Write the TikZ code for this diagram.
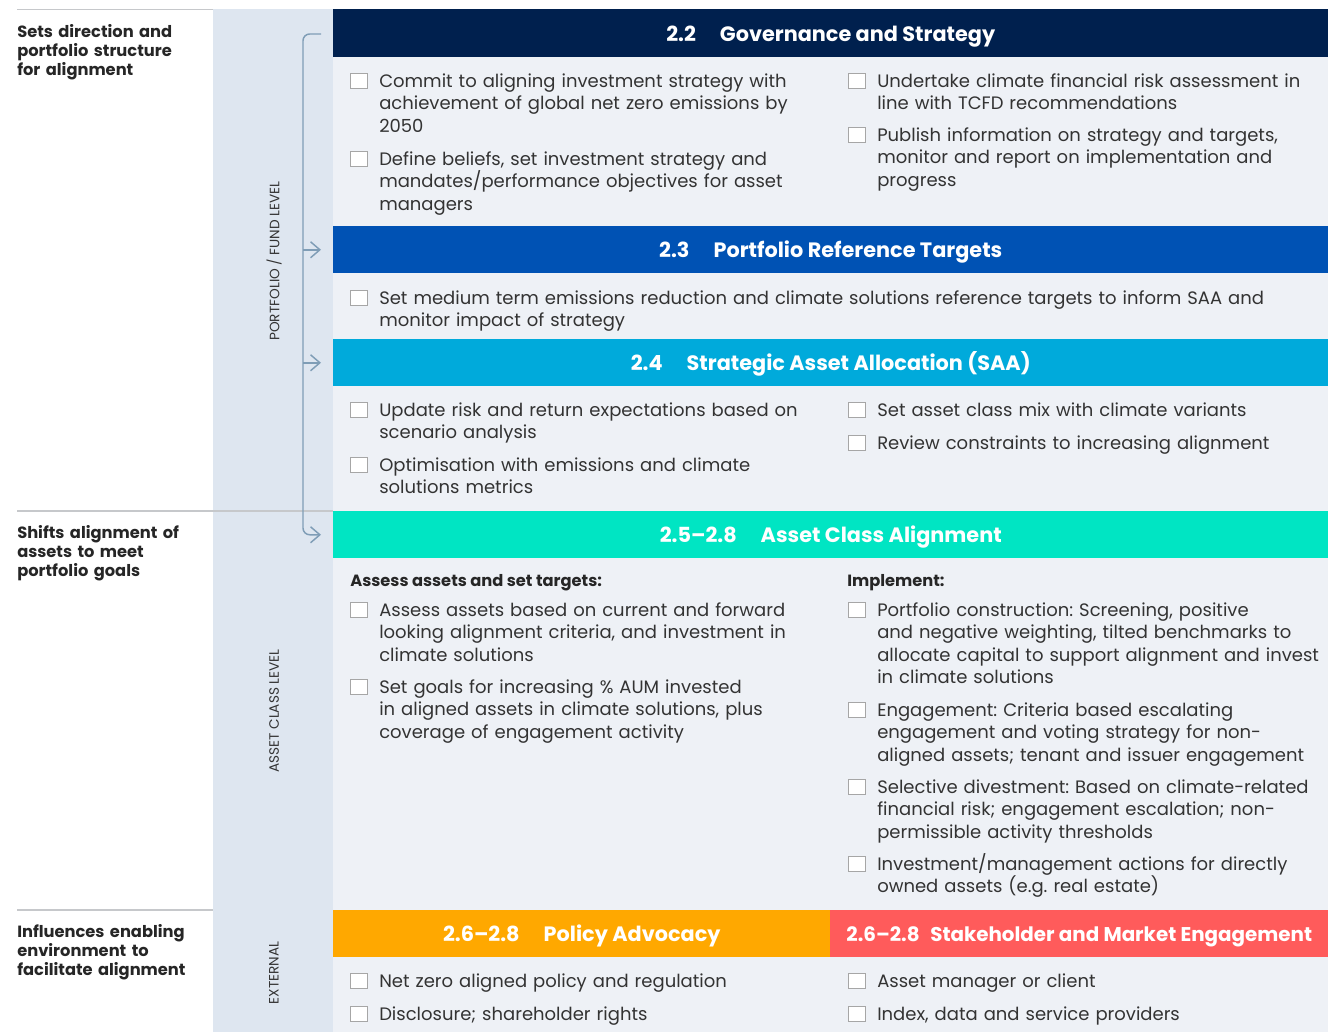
\documentclass[tikz,border=0pt]{standalone}
\usepackage{fontspec}
\setmainfont{Poppins}
\usepackage{xcolor}
\usetikzlibrary{arrows.meta, positioning, calc}

\definecolor{navyhd}{HTML}{00204E}
\definecolor{bluehd}{HTML}{0052B4}
\definecolor{cyanhd}{HTML}{00AADB}
\definecolor{tealhd}{HTML}{00E5C3}
\definecolor{amberhd}{HTML}{FFA800}
\definecolor{coralhd}{HTML}{FF5B5B}
\definecolor{panelbg}{HTML}{EEF1F6}
\definecolor{railbg}{HTML}{DEE6F0}
\definecolor{rulegray}{HTML}{C6C8CB}
\definecolor{railline}{HTML}{7F9DB6}
\definecolor{bodytext}{HTML}{333333}

% one ticked-off line of the list, with its box
\newcommand{\chkitem}[4]{%
    \node[item] (#1) at (#2,#3) {#4};
    \draw[chkbox] ($(#1.base west)+(-29,-14)$) rectangle ++(17,15);
}

\begin{document}
\frenchspacing
\begin{tikzpicture}[x=0.75pt, y=-0.75pt, >=Straight Barb,
hdr/.style={anchor=north west, inner sep=0, text=white, minimum height=35.25pt,
    text height=12pt, text depth=0pt,
    font=\bfseries\fontsize{15.6pt}{17pt}\selectfont},
item/.style={anchor=base west, inner sep=0, text width=345pt, align=left,
    text=bodytext, font=\fontsize{13.5pt}{16.9pt}\selectfont},
subhd/.style={anchor=base west, inner sep=0, text=black!85,
    font=\bfseries\fontsize{12.2pt}{13pt}\selectfont},
sidelbl/.style={anchor=base west, inner sep=0, text width=150pt, align=left,
    text=black!85, font=\bfseries\fontsize{12.2pt}{14.6pt}\selectfont},
railtext/.style={rotate=90, inner sep=0, text=bodytext,
    font=\fontsize{10.2pt}{11pt}\selectfont},
chkbox/.style={draw=black!35, fill=white, line width=0.6pt},
railarrow/.style={->, draw=railline, line width=1.1pt, shorten >=9pt,
    arrows={-Straight Barb[length=7pt, width=12pt]}}
]
    \useasboundingbox (0,0) rectangle (1328,1032);
    \fill[white] (0,0) rectangle (1328,1032);

    % Backgrounds
    \fill[railbg] (213,9) rectangle (333,1032);
    \fill[panelbg] (333,9) rectangle (1328,1032);
    \draw[rulegray, line width=0.8pt] (17,9.5) -- (213,9.5);
    \draw[rulegray, line width=0.8pt] (17,511) -- (333,511);
    \draw[rulegray, line width=0.8pt] (17,910) -- (213,910);

    % Side labels
    \node[sidelbl] (side1) at (17,37) {Sets direction and\\portfolio structure\\for alignment};
    \node[sidelbl] (side2) at (17,538) {Shifts alignment of\\assets to meet\\portfolio goals};
    \node[sidelbl] (side3) at (17,937) {Influences enabling\\environment to\\facilitate alignment};

    \node[railtext] (lvl1) at (274,261) {PORTFOLIO / FUND LEVEL};
    \node[railtext] (lvl2) at (274,711) {ASSET CLASS LEVEL};
    \node[railtext] (lvl3) at (274,973) {EXTERNAL};

    % Section headers
    \node[hdr, fill=navyhd, minimum width=746.25pt, minimum height=36pt] (h22) at (333,9)
        {2.2\hspace{18pt}Governance and Strategy};
    \node[hdr, fill=bluehd, minimum width=746.25pt] (h23) at (333,226)
        {2.3\hspace{18pt}Portfolio Reference Targets};
    \node[hdr, fill=cyanhd, minimum width=746.25pt] (h24) at (333,339)
        {2.4\hspace{18pt}Strategic Asset Allocation (SAA)};
    \node[hdr, fill=tealhd, minimum width=746.25pt] (h25) at (333,511)
        {2.5--2.8\hspace{18pt}Asset Class Alignment};
    \node[hdr, fill=amberhd, minimum width=372.75pt] (h26) at (333,910)
        {2.6--2.8\hspace{18pt}Policy Advocacy};
    \node[hdr, fill=coralhd, minimum width=373.5pt,
        font=\bfseries\fontsize{14.9pt}{17pt}\selectfont] (h27) at (830,910)
        {2.6--2.8\hspace{8pt}Stakeholder and Market Engagement};

    % Bracket with arrows
    \coordinate (spine) at (303,34);
    \draw[railarrow, rounded corners=5pt] (321,34) -- (spine) |- (h25.west);
    \draw[railarrow] (spine |- h23.west) -- (h23.west);
    \draw[railarrow] (spine |- h24.west) -- (h24.west);

    % 2.2
    \chkitem{g1}{379}{87}{Commit to aligning investment strategy with\\achievement of global net zero emissions by\\2050}
    \chkitem{g2}{379}{165}{Define beliefs, set investment strategy and\\mandates/performance objectives for asset\\managers}
    \chkitem{g3}{877}{87}{Undertake climate financial risk assessment in\\line with TCFD recommendations}
    \chkitem{g4}{877}{141}{Publish information on strategy and targets,\\monitor and report on implementation and\\progress}

    % 2.3
    \node[item, text width=700pt] (t1) at (379,304) {Set medium term emissions reduction and climate solutions reference targets to inform SAA and\\monitor impact of strategy};
    \draw[chkbox] ($(t1.base west)+(-29,-14)$) rectangle ++(17,15);

    % 2.4
    \chkitem{s1}{379}{416}{Update risk and return expectations based on\\scenario analysis}
    \chkitem{s2}{379}{471}{Optimisation with emissions and climate\\solutions metrics}
    \chkitem{s3}{877}{416}{Set asset class mix with climate variants}
    \chkitem{s4}{877}{449}{Review constraints to increasing alignment}

    % 2.5 - 2.8
    \node[subhd] (sub1) at (350,586) {Assess assets and set targets:};
    \node[subhd] (sub2) at (847,586) {Implement:};
    \chkitem{a1}{379}{616}{Assess assets based on current and forward\\looking alignment criteria, and investment in\\climate solutions}
    \chkitem{a2}{379}{693}{Set goals for increasing \% AUM invested\\in aligned assets in climate solutions, plus\\coverage of engagement activity}
    \chkitem{a3}{877}{616}{Portfolio construction: Screening, positive\\and negative weighting, tilted benchmarks to\\allocate capital to support alignment and invest\\in climate solutions}
    \chkitem{a4}{877}{716}{Engagement: Criteria based escalating\\engagement and voting strategy for non-\\aligned assets; tenant and issuer engagement}
    \chkitem{a5}{877}{793}{Selective divestment: Based on climate-related\\financial risk; engagement escalation; non-\\permissible activity thresholds}
    \chkitem{a6}{877}{870}{Investment/management actions for directly\\owned assets (e.g. real estate)}

    % External
    \chkitem{e1}{379}{987}{Net zero aligned policy and regulation}
    \chkitem{e2}{379}{1020}{Disclosure; shareholder rights}
    \chkitem{e3}{877}{987}{Asset manager or client}
    \chkitem{e4}{877}{1020}{Index, data and service providers}
\end{tikzpicture}
\end{document}
